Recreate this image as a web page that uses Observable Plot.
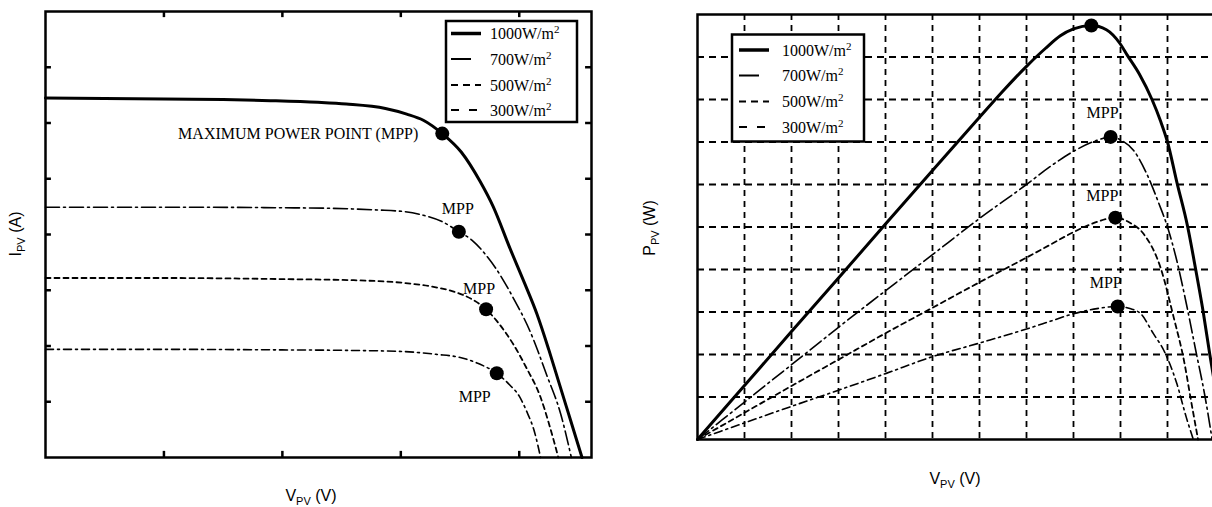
<!DOCTYPE html>
<html><head><meta charset="utf-8">
<script src="https://cdn.jsdelivr.net/npm/d3@7"></script>
<script src="https://cdn.jsdelivr.net/npm/@observablehq/plot@0.6"></script>
<style>
html,body{margin:0;padding:0;background:#fff;}
#wrap{position:relative;width:1212px;height:507px;overflow:hidden;background:#fff;}
#left{position:absolute;left:0;top:0;width:600px;height:507px;}
#right{position:absolute;left:600px;top:0;width:620px;height:507px;}
svg{max-width:none !important;}
</style></head><body>
<div id="wrap"><div id="left"></div><div id="right"></div></div>
<script>
// ---------- data ----------
const series = ["1000", "700", "500", "300"];

// I-V curves  [V, I]
const iv1000 = [[0,6.45],[0.5,6.44],[1,6.43],[1.5,6.42],[1.9,6.4],[2.3,6.37],[2.54,6.34],[2.87,6.26],[3.05,6.16],[3.19,6.05],[3.35,5.81],[3.51,5.48],[3.67,4.95],[3.78,4.5],[3.92,3.76],[4.05,3.1],[4.15,2.57],[4.25,1.93],[4.33,1.38],[4.43,0.69],[4.53,0]];
const iv700 = [[0,4.49],[1,4.49],[2,4.48],[2.4,4.47],[2.8,4.44],[3.03,4.41],[3.2,4.34],[3.35,4.23],[3.49,4.05],[3.6,3.9],[3.7,3.68],[3.8,3.4],[3.95,2.86],[4.09,2.27],[4.23,1.49],[4.35,0.78],[4.44,0]];
const iv500 = [[0,3.22],[1,3.22],[2,3.2],[2.6,3.18],[3.03,3.13],[3.25,3.07],[3.44,2.98],[3.6,2.84],[3.72,2.66],[3.81,2.45],[3.95,2.03],[4.06,1.61],[4.18,1.08],[4.26,0.54],[4.33,0]];
const iv300 = [[0,1.94],[1,1.94],[2,1.93],[2.6,1.92],[3.03,1.9],[3.3,1.85],[3.51,1.79],[3.66,1.68],[3.81,1.51],[3.92,1.3],[4.0,1.1],[4.06,0.84],[4.13,0.45],[4.18,0]];

// P-V curves  [V, P]
const pv1000 = [[0,0],[1,1.27],[2,2.54],[3,3.8],[4,5.07],[5,6.33],[6,7.58],[6.5,8.2],[7,8.78],[7.4,9.2],[7.72,9.5],[8,9.66],[8.38,9.74],[8.7,9.64],[9,9.3],[9.14,9.05],[9.4,8.6],[9.67,8.0],[9.85,7.5],[10,7.0],[10.2,6.05],[10.43,5.0],[10.6,4.0],[10.76,3.0],[10.9,2.0],[11.05,1.0],[11.2,0]];
const pv700 = [[0,0],[1,0.88],[2,1.76],[3,2.64],[4,3.5],[5,4.35],[6,5.2],[7,6.0],[7.5,6.42],[8,6.78],[8.5,7.04],[8.79,7.12],[9.0,7.05],[9.28,6.8],[9.6,6.15],[9.8,5.6],[10.0,5.0],[10.2,4.2],[10.4,3.2],[10.6,2.1],[10.8,1.0],[10.95,0]];
const pv500 = [[0,0],[1,0.63],[2,1.26],[3,1.88],[4,2.5],[5,3.1],[6,3.7],[7,4.28],[7.5,4.58],[8,4.88],[8.5,5.12],[8.89,5.22],[9.2,5.1],[9.49,4.84],[9.85,4.05],[10.13,2.88],[10.35,1.86],[10.5,0.92],[10.65,0]];
const pv300 = [[0,0],[1,0.39],[2,0.78],[3,1.16],[4,1.55],[5,1.95],[6,2.27],[7,2.6],[7.5,2.78],[8,2.96],[8.5,3.08],[8.94,3.13],[9.2,3.08],[9.43,2.96],[9.7,2.49],[9.92,2.1],[10.2,1.31],[10.4,0.52],[10.55,0]];

// maximum power points
const mppIV = [[3.35,5.81],[3.49,4.05],[3.72,2.66],[3.81,1.51]];
const mppPV = [[8.38,9.74],[8.79,7.12],[8.89,5.22],[8.94,3.13]];

// ticks / grid
const ivXTicks = [1,2,3,4];
const ivYTicks = [1,2,3,4,5,6,7];
const pvXGrid = [1,2,3,4,5,6,7,8,9,10];
const pvYGrid = [1,2,3,4,5,6,7,8,9];

// ---------- styles ----------
const ivData = {"1000": iv1000, "700": iv700, "500": iv500, "300": iv300};
const pvData = {"1000": pv1000, "700": pv700, "500": pv500, "300": pv300};
const lineStyle = {
  "1000": {w: 3, dash: null},
  "700": {w: 1.6, dash: "14,4,2,4"},
  "500": {w: 1.8, dash: "5,4"},
  "300": {w: 1.6, dash: "8,4,2,4"}
};
const legendStyle = {
  "1000": {w: 3.5, dash: null, len: 30},
  "700": {w: 2, dash: null, len: 20},
  "500": {w: 2, dash: "7,5", len: 30},
  "300": {w: 2, dash: "8,10", len: 30}
};
const serif = "'Liberation Serif', 'Times New Roman', serif";
const sans = "'Liberation Sans', Arial, sans-serif";

function curveMarks(dataMap) {
  return series.map(s => Plot.line(dataMap[s], {
    x: d => d[0], y: d => d[1], curve: "monotone-x",
    stroke: "black", strokeWidth: lineStyle[s].w,
    strokeDasharray: lineStyle[s].dash
  }));
}

function label(pt, text, dx, dy, anchor = "middle") {
  return Plot.text([pt], {x: d => d[0], y: d => d[1], text: () => text, dx, dy,
    textAnchor: anchor, fontFamily: serif, fontSize: 16, fill: "black"});
}

// ---------- left: I-V ----------
const left = Plot.plot({
  width: 600, height: 507,
  marginLeft: 45, marginRight: 9, marginTop: 11, marginBottom: 50,
  x: {domain: [0, 4.61], axis: null},
  y: {domain: [0, 8], axis: null},
  style: {background: "white", overflow: "visible"},
  marks: [
    Plot.ruleX(ivXTicks, {x: d => d, y1: 0, y2: 0.11, stroke: "black", strokeWidth: 2.5}),
    Plot.ruleX(ivXTicks, {x: d => d, y1: 8, y2: 7.89, stroke: "black", strokeWidth: 2.5}),
    Plot.ruleY(ivYTicks, {y: d => d, x1: 0, x2: 0.05, stroke: "black", strokeWidth: 2.5}),
    Plot.ruleY(ivYTicks, {y: d => d, x1: 4.61, x2: 4.56, stroke: "black", strokeWidth: 2.5}),
    ...curveMarks(ivData),
    Plot.dot(mppIV, {x: d => d[0], y: d => d[1], r: 7, fill: "black", stroke: "none"}),
    label(mppIV[0], "MAXIMUM POWER POINT (MPP)", -24, 0, "end"),
    label(mppIV[1], "MPP", -1, -23),
    label(mppIV[2], "MPP", -7, -20),
    label(mppIV[3], "MPP", -22, 24),
    Plot.frame({stroke: "black", strokeWidth: 2.5})
  ]
});

// ---------- right: P-V ----------
const right = Plot.plot({
  width: 620, height: 507,
  marginLeft: 97, marginRight: 6, marginTop: 14, marginBottom: 68,
  x: {domain: [0, 11], axis: null},
  y: {domain: [0, 10], axis: null},
  style: {background: "white", overflow: "visible"},
  marks: [
    Plot.ruleX(pvXGrid, {x: d => d, stroke: "black", strokeWidth: 1.8, strokeDasharray: "6,5"}),
    Plot.ruleY(pvYGrid, {y: d => d, stroke: "black", strokeWidth: 1.8, strokeDasharray: "7,5"}),
    ...curveMarks(pvData),
    Plot.dot(mppPV, {x: d => d[0], y: d => d[1], r: 7, fill: "black", stroke: "none"}),
    label(mppPV[1], "MPP", -8, -24),
    label(mppPV[2], "MPP", -13, -22),
    label(mppPV[3], "MPP", -12, -24),
    Plot.frame({stroke: "black", strokeWidth: 2.5})
  ]
});

// ---------- annotations: legends & axis labels ----------
function addLegend(svg, box, rows, sx, tx) {
  const g = d3.select(svg).append("g").attr("text-anchor", "start");
  g.append("rect").attr("x", box[0]).attr("y", box[1]).attr("width", box[2] - box[0]).attr("height", box[3] - box[1])
    .attr("fill", "white").attr("stroke", "black").attr("stroke-width", 2.5);
  series.forEach((s, i) => {
    const st = legendStyle[s];
    g.append("line").attr("x1", sx).attr("x2", sx + st.len).attr("y1", rows[i]).attr("y2", rows[i])
      .attr("stroke", "black").attr("stroke-width", st.w).attr("stroke-dasharray", st.dash);
    const t = g.append("text").attr("x", tx).attr("y", rows[i]).attr("dy", "0.35em")
      .attr("text-anchor", "start")
      .style("font-family", serif).style("font-size", "16px").attr("fill", "black");
    t.append("tspan").text(s + "W/m");
    t.append("tspan").attr("dy", "-6").style("font-size", "11px").text("2");
  });
}
function addAxisLabel(svg, x, y, rot, main, sub, rest) {
  const t = d3.select(svg).append("text")
    .attr("transform", `translate(${x},${y}) rotate(${rot})`)
    .attr("text-anchor", "middle")
    .style("font-family", sans).style("font-size", "16px").attr("fill", "black");
  t.append("tspan").text(main);
  t.append("tspan").attr("dy", "4").style("font-size", "11px").text(sub);
  t.append("tspan").attr("dy", "-4").text(rest);
}

addLegend(left, [446, 21, 577, 122], [33.5, 59, 85, 110], 451, 490);
addLegend(right, [132, 34.5, 264, 141.5], [50, 75.5, 101.5, 127], 139, 182);
addAxisLabel(left, 21, 234, -90, "I", "PV", " (A)");
addAxisLabel(left, 311, 501, 0, "V", "PV", " (V)");
addAxisLabel(right, 55, 228, -90, "P", "PV", " (W)");
addAxisLabel(right, 355, 484, 0, "V", "PV", " (V)");

document.getElementById("left").appendChild(left);
document.getElementById("right").appendChild(right);
</script>
</body></html>
